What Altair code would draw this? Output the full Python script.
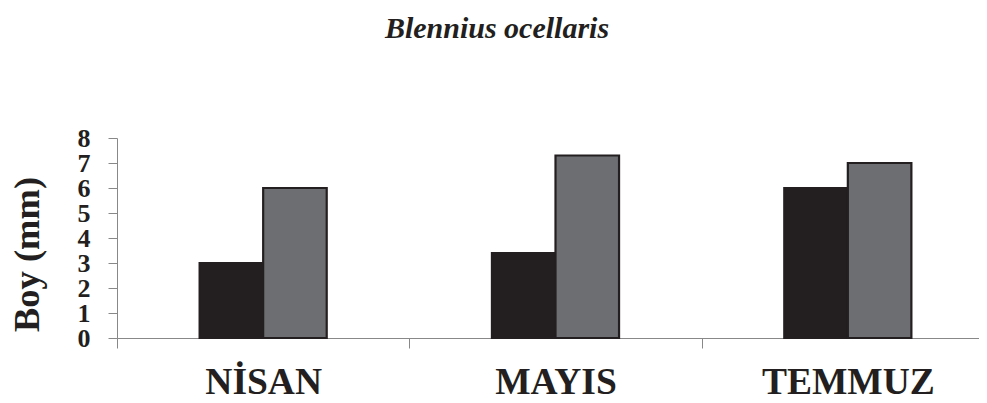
import altair as alt
import pandas as pd

months = ["NİSAN", "MAYIS", "TEMMUZ"]
series = ["A", "B"]
values_a = [3.0, 3.4, 6.0]
values_b = [6.0, 7.3, 7.0]

rows = []
for m, a, b in zip(months, values_a, values_b):
    rows.append({"ay": m, "seri": "A", "boy": a})
    rows.append({"ay": m, "seri": "B", "boy": b})
df = pd.DataFrame(rows)

serif = "Liberation Serif"

chart = alt.Chart(df).mark_bar(stroke="#231f20", strokeWidth=2.2).encode(
    x=alt.X("ay:N", sort=months,
            scale=alt.Scale(paddingInner=0, paddingOuter=0, range=[0, 877]),
            axis=alt.Axis(title=None, labelAngle=0, labelFont=serif, labelFontSize=37.5,
                          labelFontWeight="bold", labelColor="#231f20",
                          tickBand="extent", tickSize=10, tickColor="#888888",
                          domainColor="#888888", labelPadding=15)),
    xOffset=alt.XOffset("seri:N", scale=alt.Scale(domain=["L", "A", "B", "R"],
                                                  paddingOuter=0.3, paddingInner=0)),
    y=alt.Y("boy:Q", scale=alt.Scale(domain=[0, 8], nice=False),
            axis=alt.Axis(title="Boy (mm)", values=list(range(0, 9)), grid=False,
                          labelOverlap=False,
                          labelFont=serif, labelFontSize=26, labelFontWeight="bold",
                          labelColor="#231f20", tickSize=9, tickColor="#888888",
                          domainColor="#888888", labelPadding=18,
                          titleFont=serif, titleFontSize=36.5, titleFontWeight="bold",
                          titleColor="#231f20", titleX=-90, titleY=116,
                          titleAngle=-90, titleAlign="center", titleBaseline="middle")),
    color=alt.Color("seri:N", scale=alt.Scale(domain=series, range=["#231f20", "#6d6e71"]),
                    legend=None),
).properties(
    width=862, height=200,
    title=alt.TitleParams("Blennius ocellaris", font=serif, fontSize=30, fontStyle="italic",
                          fontWeight="bold", color="#231f20", anchor="middle", dx=-51, offset=81),
    autosize=alt.AutoSizeParams(type="none"),
    padding={"left": 109, "top": 130, "right": 0, "bottom": 57},
).configure_view(stroke=None)

chart.save("out.html", embed_options={"renderer": "svg", "actions": False})
